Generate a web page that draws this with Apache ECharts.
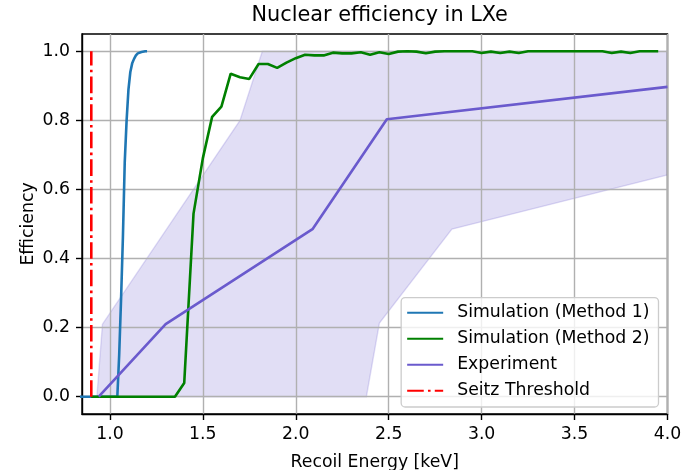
<!DOCTYPE html>
<html>
<head>
<meta charset="utf-8">
<title>Nuclear efficiency in LXe</title>
<script src="https://cdn.jsdelivr.net/npm/echarts@6/dist/echarts.min.js"></script>
<style>
  html, body { margin: 0; padding: 0; background: #ffffff; }
  #chart { width: 687px; height: 470px; }
</style>
</head>
<body>
<div id="chart"></div>
<script>
// Axis ticks
const xTicks = [1.0, 1.5, 2.0, 2.5, 3.0, 3.5, 4.0];
const yTicks = [0.0, 0.2, 0.4, 0.6, 0.8, 1.0];

// Simulation, method 1
const method1Energy = [0.80, 0.90, 1.00, 1.04, 1.05, 1.06, 1.07, 1.08, 1.09, 1.10, 1.11, 1.12, 1.13, 1.14, 1.15, 1.16, 1.17, 1.18, 1.19, 1.20];
const method1Eff    = [0.00, 0.00, 0.00, 0.00, 0.12, 0.28, 0.46, 0.68, 0.80, 0.89, 0.94, 0.965, 0.978, 0.988, 0.994, 0.996, 0.998, 0.997, 1.00, 1.00];

// Simulation, method 2
const method2Energy = [0.90, 0.95, 1.00, 1.05, 1.10, 1.15, 1.20, 1.25, 1.30, 1.35,
                       1.40, 1.45, 1.50, 1.55, 1.60, 1.65, 1.70, 1.75, 1.80, 1.85,
                       1.90, 1.95, 2.00, 2.05, 2.10, 2.15, 2.20, 2.25, 2.30, 2.35,
                       2.40, 2.45, 2.50, 2.55, 2.60, 2.65, 2.70, 2.75, 2.80, 2.85,
                       2.90, 2.95, 3.00, 3.05, 3.10, 3.15, 3.20, 3.25, 3.30, 3.35,
                       3.40, 3.45, 3.50, 3.55, 3.60, 3.65, 3.70, 3.75, 3.80, 3.85,
                       3.90, 3.95];
const method2Eff    = [0.00, 0.00, 0.00, 0.00, 0.00, 0.00, 0.00, 0.00, 0.00, 0.00,
                       0.04, 0.53, 0.69, 0.81, 0.84, 0.935, 0.925, 0.92, 0.963, 0.963,
                       0.952, 0.967, 0.98, 0.99, 0.988, 0.988, 0.996, 0.994, 0.994, 0.997,
                       0.99, 0.997, 0.992, 0.999, 1.00, 0.999, 0.994, 0.999, 1.00, 1.00,
                       1.00, 1.00, 0.995, 0.999, 0.995, 0.999, 0.995, 1.00, 1.00, 1.00,
                       1.00, 1.00, 1.00, 1.00, 1.00, 1.00, 0.995, 0.999, 0.995, 1.00,
                       1.00, 1.00];

// Measured efficiency
const expEnergy = [0.94, 1.30, 2.09, 2.49, 4.00];
const expEff    = [0.00, 0.21, 0.485, 0.803, 0.897];

// Measurement uncertainty band (upper edge, then lower edge back)
const bandUpperEnergy = [0.93, 0.96, 1.70, 1.82, 4.00];
const bandUpperEff    = [0.00, 0.21, 0.80, 1.00, 1.00];
const bandLowerEnergy = [4.00, 2.84, 2.45, 2.38, 0.93];
const bandLowerEff    = [0.642, 0.485, 0.213, 0.00, 0.00];

// Seitz threshold energy
const seitzEnergy = 0.90;

const FONT = 'DejaVu Sans';
const zip = (xs, ys) => xs.map((x, i) => [x, ys[i]]);

const chart = echarts.init(document.getElementById('chart'), null, { renderer: 'canvas' });

chart.setOption({
  animation: false,
  backgroundColor: '#ffffff',
  textStyle: { fontFamily: FONT },
  title: {
    text: 'Nuclear efficiency in LXe',
    left: 374.7,
    top: 0,
    textAlign: 'center',
    textStyle: { fontFamily: FONT, fontSize: 20.8, fontWeight: 'normal', color: '#000' }
  },
  grid: {
    left: 82, right: 19.5, top: 34, bottom: 56,
    containLabel: false,
    outerBoundsMode: 'none',
    show: true, borderColor: '#000', borderWidth: 1.4, backgroundColor: 'transparent'
  },
  legend: {
    orient: 'vertical',
    right: 28.5,
    bottom: 63,
    data: ['Simulation (Method 1)', 'Simulation (Method 2)', 'Experiment', 'Seitz Threshold'],
    itemWidth: 36,
    itemHeight: 14,
    itemGap: 8.6,
    padding: [6.5, 9, 7.5, 5],
    backgroundColor: 'rgba(255,255,255,0.8)',
    borderColor: '#cccccc',
    borderWidth: 1.3,
    borderRadius: 4,
    // line-only handles: hide the marker drawn in the middle of each handle
    itemStyle: { opacity: 0, borderWidth: 0 },
    textStyle: { fontFamily: FONT, fontSize: 17.3, color: '#000', lineHeight: 17.4, padding: [0, 0, 0, 9] }
  },
  xAxis: {
    type: 'value',
    min: 0.85,
    max: 4.0,
    name: 'Recoil Energy [keV]',
    nameLocation: 'middle',
    nameGap: 40,
    nameMoveOverlap: false,
    nameTextStyle: { fontFamily: FONT, fontSize: 17.3, color: '#000' },
    axisLine: { onZero: false, lineStyle: { color: '#000', width: 1.4 } },
    axisTick: { show: true, length: 6, customValues: xTicks, lineStyle: { color: '#000', width: 1.4 } },
    axisLabel: {
      customValues: xTicks, margin: 12,
      fontFamily: FONT, fontSize: 17.3, color: '#000',
      formatter: v => v.toFixed(1)
    },
    splitLine: { show: true, lineStyle: { color: '#b0b0b0', width: 1.4 } }
  },
  yAxis: {
    type: 'value',
    min: -0.05,
    max: 1.05,
    name: 'Efficiency',
    nameLocation: 'middle',
    nameGap: 45,
    nameMoveOverlap: false,
    nameTextStyle: { fontFamily: FONT, fontSize: 17.3, color: '#000' },
    axisLine: { show: true, onZero: false, lineStyle: { color: '#000', width: 1.4 } },
    axisTick: { show: true, length: 6, customValues: yTicks, lineStyle: { color: '#000', width: 1.4 } },
    axisLabel: {
      customValues: yTicks, margin: 12,
      fontFamily: FONT, fontSize: 17.3, color: '#000',
      formatter: v => v.toFixed(1)
    },
    splitLine: { show: true, lineStyle: { color: '#b0b0b0', width: 1.4 } }
  },
  series: [
    {
      // shaded uncertainty region around the measurement
      type: 'custom',
      z: -1,
      silent: true,
      clip: true,
      data: [[bandUpperEnergy[0], bandUpperEff[0]]],
      renderItem: (params, api) => {
        const pts = zip(bandUpperEnergy, bandUpperEff)
          .concat(zip(bandLowerEnergy, bandLowerEff))
          .map(p => api.coord(p));
        return {
          type: 'polygon',
          shape: { points: pts },
          style: { fill: 'rgba(106,90,205,0.2)', stroke: 'rgba(106,90,205,0.2)', lineWidth: 1.4 }
        };
      }
    },
    {
      name: 'Simulation (Method 1)',
      type: 'line',
      data: zip(method1Energy, method1Eff),
      symbol: 'none',
      clip: true,
      lineStyle: { color: '#1f77b4', width: 2.6 },
      itemStyle: { color: '#1f77b4' },
      z: 3
    },
    {
      name: 'Simulation (Method 2)',
      type: 'line',
      data: zip(method2Energy, method2Eff),
      symbol: 'none',
      clip: true,
      lineStyle: { color: '#008000', width: 2.6 },
      itemStyle: { color: '#008000' },
      z: 4
    },
    {
      name: 'Experiment',
      type: 'line',
      data: zip(expEnergy, expEff),
      symbol: 'none',
      clip: true,
      lineStyle: { color: '#6a5acd', width: 2.6 },
      itemStyle: { color: '#6a5acd' },
      z: 5
    },
    {
      name: 'Seitz Threshold',
      type: 'line',
      data: [[seitzEnergy, 0], [seitzEnergy, 1]],
      symbol: 'none',
      clip: true,
      lineStyle: { color: '#ff0000', width: 2.6, type: [16.6, 4.2, 2.6, 4.2] },
      itemStyle: { color: '#ff0000' },
      z: 6
    }
  ]
});
</script>
</body>
</html>
